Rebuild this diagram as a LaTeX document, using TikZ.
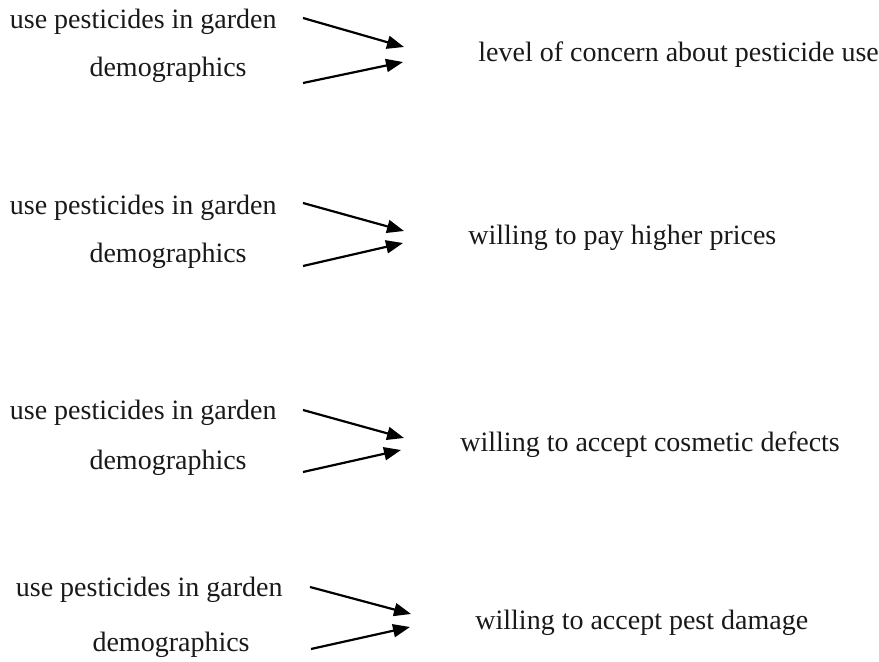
\documentclass[tikz,border=0pt]{standalone}
\usepackage{fontspec}
\setmainfont{Liberation Serif}
\usepackage{tikz}
\usetikzlibrary{positioning,arrows.meta}

\begin{document}
\begin{tikzpicture}[
            x=0.5pt, y=-0.5pt,
            src/.style={anchor=east},
            tgt/.style={anchor=west},
            link/.style={-{Triangle[length=8.5pt,width=6.5pt]}, line width=1.1pt},
            auto
        ]
            \useasboundingbox (0,0) rectangle (879,662);
            \begin{scope}[
                every node/.style={inner sep=0pt, text=black!90, font=\fontsize{14}{16}\selectfont}
            ]
                % Group 1
                \node[src] (use1) at (277, 22) {use pesticides in garden};
                \node[src] (demo1) at (247, 70) {demographics};
                \node[tgt] (concern) at (478, 55) {level of concern about pesticide use};
                \coordinate (tipA1) at (404, 47);
                \coordinate (tipB1) at (403, 62);
                % Group 2
                \node[src] (use2) at (277, 208) {use pesticides in garden};
                \node[src] (demo2) at (247, 256) {demographics};
                \node[tgt] (prices) at (468, 238) {willing to pay higher prices};
                \coordinate (tipA2) at (404, 231);
                \coordinate (tipB2) at (403, 243);
                % Group 3
                \node[src] (use3) at (277, 413) {use pesticides in garden};
                \node[src] (demo3) at (247, 463) {demographics};
                \node[tgt] (cosmetic) at (460, 445) {willing to accept cosmetic defects};
                \coordinate (tipA3) at (404, 438);
                \coordinate (tipB3) at (401, 450);
                % Group 4
                \node[src] (use4) at (283, 590) {use pesticides in garden};
                \node[src] (demo4) at (250, 645) {demographics};
                \node[tgt] (damage) at (475, 623) {willing to accept pest damage};
                \coordinate (tipA4) at (411, 614);
                \coordinate (tipB4) at (410, 627);
                % Edges
                \draw[link] ([shift={(26,-4)}]use1.east) -- (tipA1);
                \draw[link] ([shift={(56,13)}]demo1.east) -- (tipB1);
                \draw[link] ([shift={(26,-5)}]use2.east) -- (tipA2);
                \draw[link] ([shift={(56,10)}]demo2.east) -- (tipB2);
                \draw[link] ([shift={(26,-3)}]use3.east) -- (tipA3);
                \draw[link] ([shift={(56,9)}]demo3.east) -- (tipB3);
                \draw[link] ([shift={(27,-3)}]use4.east) -- (tipA4);
                \draw[link] ([shift={(61,4)}]demo4.east) -- (tipB4);
            \end{scope}
        \end{tikzpicture}
\end{document}
